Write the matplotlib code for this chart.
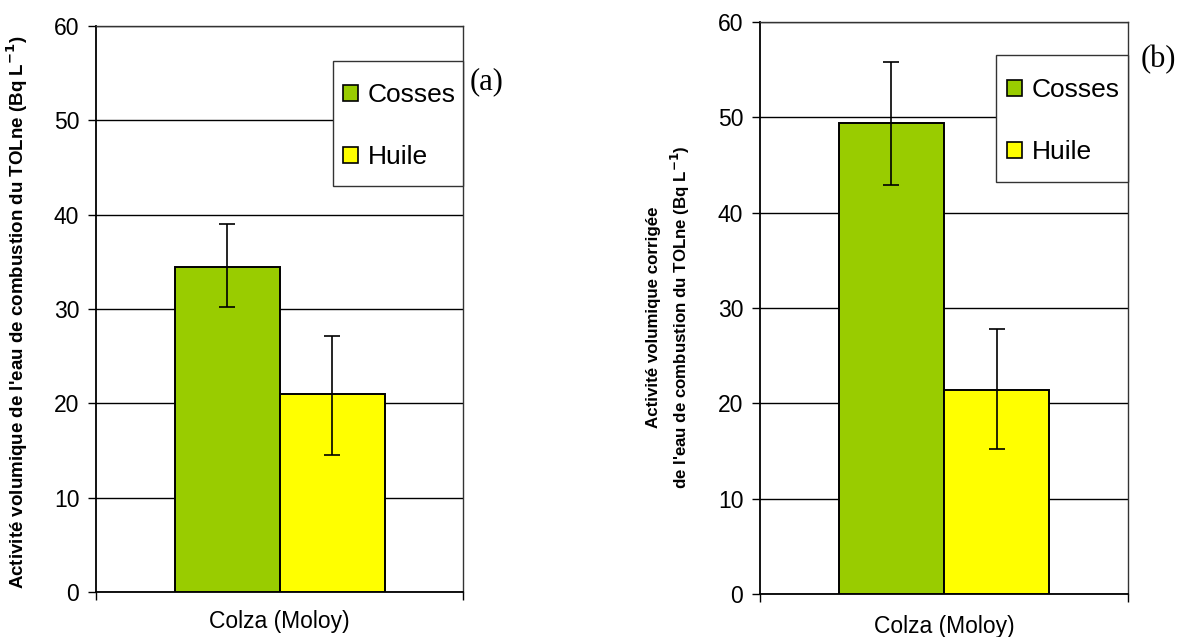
import matplotlib
matplotlib.use("Agg")
import matplotlib.pyplot as plt
from matplotlib.patches import Patch, Rectangle

plt.rcParams['font.family'] = ['Liberation Sans', 'DejaVu Sans']

categories = ["Colza (Moloy)"]
series = ["Cosses", "Huile"]
colors = ["#99cc00", "#ffff00"]

# Panel (a)
a_values = [34.5, 21.0]
a_low = [30.2, 14.5]
a_high = [39.0, 27.1]
# Panel (b)
b_values = [49.4, 21.4]
b_low = [42.9, 15.2]
b_high = [55.8, 27.8]

yticks = [0, 10, 20, 30, 40, 50, 60]

W, H = 1196, 637
fig = plt.figure(figsize=(W / 100, H / 100), dpi=100)

def fx(px):
    return px / W

def fy(py):
    return 1 - py / H

def panel(left, top, right, bottom, values, low, high, ylabel, ylab_x, ylab_y, ylab_fs,
          xpad, tag, tag_xy, leg_box, leg_anchor):
    ax = fig.add_axes([fx(left), fy(bottom), fx(right - left), (bottom - top) / H])
    w = 105 / 367
    offsets = [-w / 2, w / 2]
    for i, (v, lo, hi) in enumerate(zip(values, low, high)):
        x = offsets[i]
        ax.bar(x, v, width=w, color=colors[i], edgecolor="black", linewidth=1.4, zorder=3)
        ax.errorbar(x, v, yerr=[[v - lo], [hi - v]], fmt="none", ecolor="black",
                    elinewidth=1.2, capsize=6, capthick=1.2, zorder=4)
    ax.set_xlim(-0.5, 0.5)
    ax.set_ylim(0, 60)
    ax.set_yticks(yticks)
    ax.set_yticklabels([str(t) for t in yticks], fontsize=16.5)
    ax.yaxis.grid(True, color="black", linewidth=1.0, zorder=0)
    ax.set_axisbelow(True)
    ax.set_xticks([-0.5, 0.5])
    ax.set_xticklabels(["", ""])
    ax.set_xticks([0], minor=True)
    ax.set_xticklabels(categories, minor=True, fontsize=16.5)
    ax.tick_params(axis="x", which="minor", length=0, pad=xpad)
    ax.tick_params(axis="x", which="major", length=6, width=1, direction="out")
    ax.tick_params(axis="y", length=6, width=1, direction="out", pad=6)
    for s in ["left", "bottom"]:
        ax.spines[s].set_color("black")
        ax.spines[s].set_linewidth(1.3)
    for s in ["top", "right"]:
        ax.spines[s].set_color("#333333")
        ax.spines[s].set_linewidth(1.0)
    fig.text(fx(ylab_x), fy(ylab_y), ylabel, rotation=90, ha="center", va="center",
             fontsize=ylab_fs, fontweight="bold", linespacing=1.45, multialignment="center")
    fig.text(fx(tag_xy[0]), fy(tag_xy[1]), tag, fontsize=22, family="Liberation Serif",
             ha="center", va="center")
    bx0, by0, bx1, by1 = leg_box
    fig.patches.append(Rectangle((fx(bx0), fy(by1)), fx(bx1 - bx0), (by1 - by0) / H,
                                 transform=fig.transFigure, facecolor="white",
                                 edgecolor="#333333", linewidth=1.0, zorder=4))
    handles = [Patch(facecolor=c, edgecolor="black", linewidth=1.2) for c in colors]
    leg = fig.legend(handles, series, loc="upper left",
                     bbox_to_anchor=(fx(leg_anchor[0]), fy(leg_anchor[1])),
                     bbox_transform=fig.transFigure, fontsize=19, frameon=False,
                     handlelength=0.57, handleheight=0.57, handletextpad=0.38,
                     labelspacing=1.45, borderpad=0, borderaxespad=0)
    leg.set_zorder(6)
    return ax

panel(96, 26, 463, 592, a_values, a_low, a_high,
      "Activité volumique de l'eau de combustion du TOLne (Bq L$^{\\mathbf{-1}}$)",
      17, 312, 13.5, 13,
      "(a)", (487, 82), (333, 61, 463, 186), (343, 83))

panel(760, 22, 1128, 594, b_values, b_low, b_high,
      "Activité volumique corrigée\nde l'eau de combustion du TOLne (Bq L$^{\\mathbf{-1}}$)",
      669, 317, 12.2, 15,
      "(b)", (1158, 60), (996, 55, 1128, 182), (1007, 78))

fig.savefig("out.png", dpi=100, facecolor="white")
